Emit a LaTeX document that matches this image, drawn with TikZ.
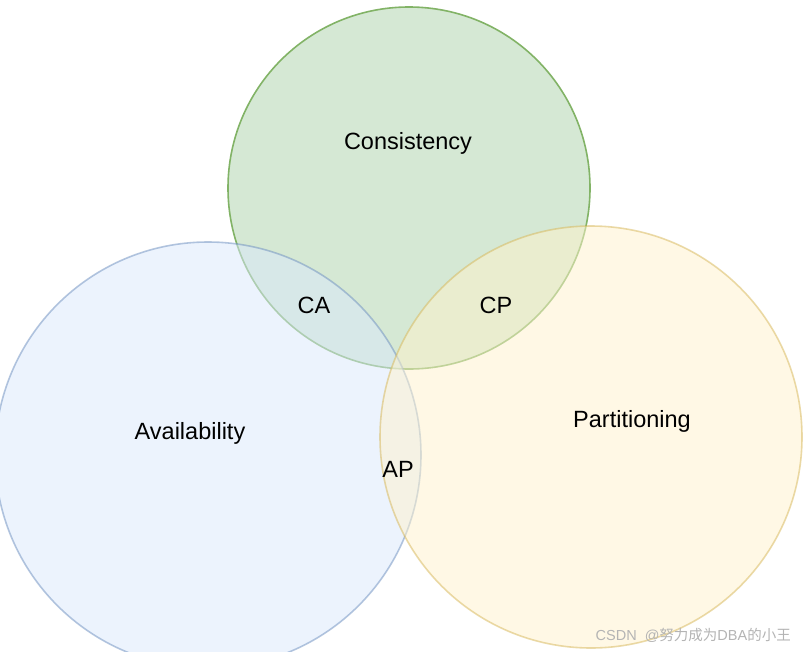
\documentclass[tikz,border=0pt]{standalone}
\usepackage{fontspec}
\setmainfont{Liberation Sans}
\newfontfamily\cjk{Noto Sans CJK SC}
\definecolor{gfill}{HTML}{D5E8D4}
\definecolor{gline}{HTML}{82B366}
\definecolor{bfill}{HTML}{DAE8FC}
\definecolor{bline}{HTML}{6C8EBF}
\definecolor{yfill}{HTML}{FFF2CC}
\definecolor{yline}{HTML}{D6B656}
\definecolor{wm}{HTML}{B4B4B4}
\begin{document}
\begin{tikzpicture}[x=1pt,y=-1pt,
  setc/.style={circle,inner sep=0pt,line width=1.6pt},
  lbl/.style={font=\fontsize{23.5}{27}\selectfont,text=black,inner sep=0pt}]
\useasboundingbox (0,0) rectangle (806,651);
\clip (0,0) rectangle (806,651);
\fill[white] (0,0) rectangle (806,651);
\node[setc,draw=gline,fill=gfill,minimum size=362pt] (C) at (409,188) {};
\node[setc,draw=bline,fill=bfill,opacity=0.5,minimum size=426pt] (A) at (208,455) {};
\node[setc,draw=yline,fill=yfill,opacity=0.5,minimum size=422pt] (P) at (591,437) {};
\node[lbl] (tC) at (408,143) {Consistency};
\node[lbl] (tA) at (190,433) {Availability};
\node[lbl] (tP) at (632,421) {Partitioning};
\node[lbl] (tCA) at (314,305) {CA};
\node[lbl] (tCP) at (496,305) {CP};
\node[lbl] (tAP) at (398,469) {AP};
\node[anchor=east,text=wm,font=\fontsize{14.5}{16}\selectfont,inner sep=0pt] (wm) at (791,635) {CSDN\hspace{8pt}@{\cjk 努力成为}DBA{\cjk 的小王}};
\end{tikzpicture}
\end{document}
